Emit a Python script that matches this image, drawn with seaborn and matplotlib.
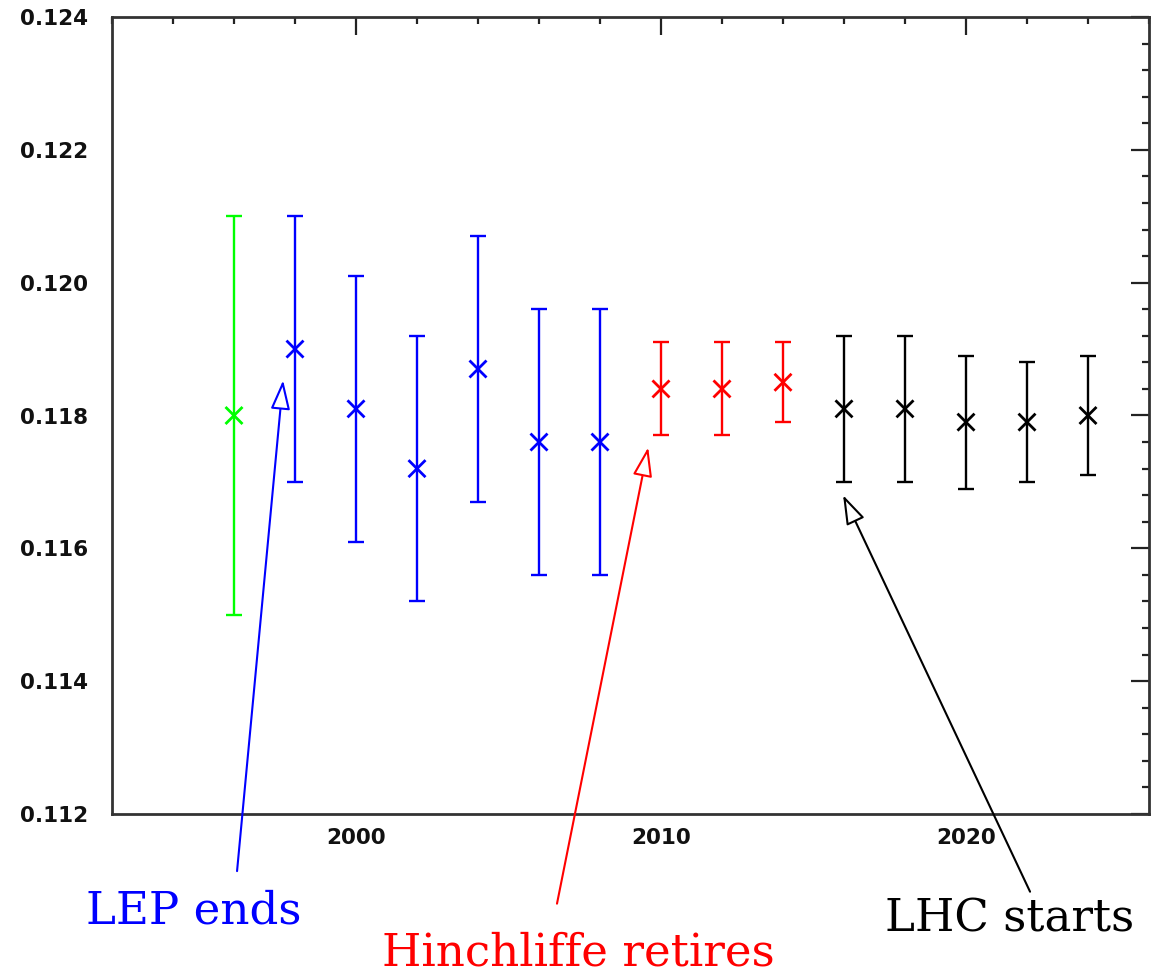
import numpy as np
import pandas as pd
import matplotlib
matplotlib.use("Agg")
import matplotlib.pyplot as plt
import seaborn as sns
from matplotlib.ticker import MultipleLocator, FormatStrFormatter

# ---- data ----
years = [1996, 1998, 2000, 2002, 2004, 2006, 2008,
         2010, 2012, 2014, 2016, 2018, 2020, 2022, 2024]
alpha_s = [0.1180, 0.1190, 0.1181, 0.1172, 0.1187, 0.1176, 0.1176,
           0.1184, 0.1184, 0.1185, 0.1181, 0.1181, 0.1179, 0.1179, 0.1180]
errors = [0.0030, 0.0020, 0.0020, 0.0020, 0.0020, 0.0020, 0.0020,
          0.0007, 0.0007, 0.0006, 0.0011, 0.0011, 0.0010, 0.0009, 0.0009]
groups = ["early"] + ["LEP"] * 6 + ["Hinchliffe"] * 3 + ["LHC"] * 5
palette = {"early": "#00ff00", "LEP": "#0000ff", "Hinchliffe": "#ff0000", "LHC": "#000000"}

annot_texts = ["LEP ends", "Hinchliffe retires", "LHC starts"]
annot_colors = ["#0000ff", "#ff0000", "#000000"]
annot_heads = [(1997.61, 0.11853), (2009.58, 0.11752), (2015.97, 0.11680)]
annot_tails = [(1996.10, 0.11114), (2006.59, 0.11065), (2022.10, 0.11083)]
annot_text_px = [(194, 923), (578, 966), (1010, 932)]

df = pd.DataFrame({"year": years, "alpha": alpha_s, "err": errors, "group": groups})

sns.set_style("white")
plt.rcParams["font.family"] = ["DejaVu Sans"]

W, H = 1153, 974
fig = plt.figure(figsize=(W / 100, H / 100), dpi=100)
ax = fig.add_axes([112 / W, 1 - 814 / H, (1149 - 112) / W, (814 - 17) / H])

for g, sub in df.groupby("group", sort=False):
    ax.errorbar(sub["year"], sub["alpha"], yerr=sub["err"], fmt="none",
                ecolor=palette[g], elinewidth=1.7, capsize=6, capthick=1.7, zorder=2)

sns.scatterplot(data=df, x="year", y="alpha", hue="group", palette=palette,
                marker="x", s=150, linewidth=2.0, legend=False, ax=ax, zorder=3)

ax.set_xlim(1992, 2026)
ax.set_ylim(0.112, 0.124)
ax.set_xlabel("")
ax.set_ylabel("")

ax.xaxis.set_major_locator(MultipleLocator(10))
ax.xaxis.set_minor_locator(MultipleLocator(2))
ax.yaxis.set_major_locator(MultipleLocator(0.002))
ax.yaxis.set_minor_locator(MultipleLocator(0.0004))
ax.yaxis.set_major_formatter(FormatStrFormatter("%.3f"))

ax.tick_params(which="both", direction="in", top=True, right=True,
               color="#222222", width=1.6)
ax.tick_params(which="major", length=13)
ax.tick_params(which="minor", length=5)
ax.tick_params(axis="y", which="major", pad=17)
ax.tick_params(axis="x", which="major", pad=10)
for lab in ax.get_xticklabels() + ax.get_yticklabels():
    lab.set_fontsize(15.5)
    lab.set_fontweight("bold")
    lab.set_color("#111111")

for sp in ax.spines.values():
    sp.set_linewidth(2.0)
    sp.set_color("#333333")
    sp.set_visible(True)

for txt, col, head, tail, tpx in zip(annot_texts, annot_colors, annot_heads,
                                      annot_tails, annot_text_px):
    ax.annotate("", xy=head, xytext=tail, xycoords="data", textcoords="data",
                annotation_clip=False,
                arrowprops=dict(arrowstyle="-|>,head_length=0.9,head_width=0.3",
                                mutation_scale=20, color=col, fc="white",
                                lw=1.5, shrinkA=0, shrinkB=0))
    fig.text(tpx[0] / W, 1 - tpx[1] / H, txt, color=col, ha="center",
             va="baseline", fontsize=32.5, family=["DejaVu Serif"])

fig.savefig("out.png", dpi=100)
